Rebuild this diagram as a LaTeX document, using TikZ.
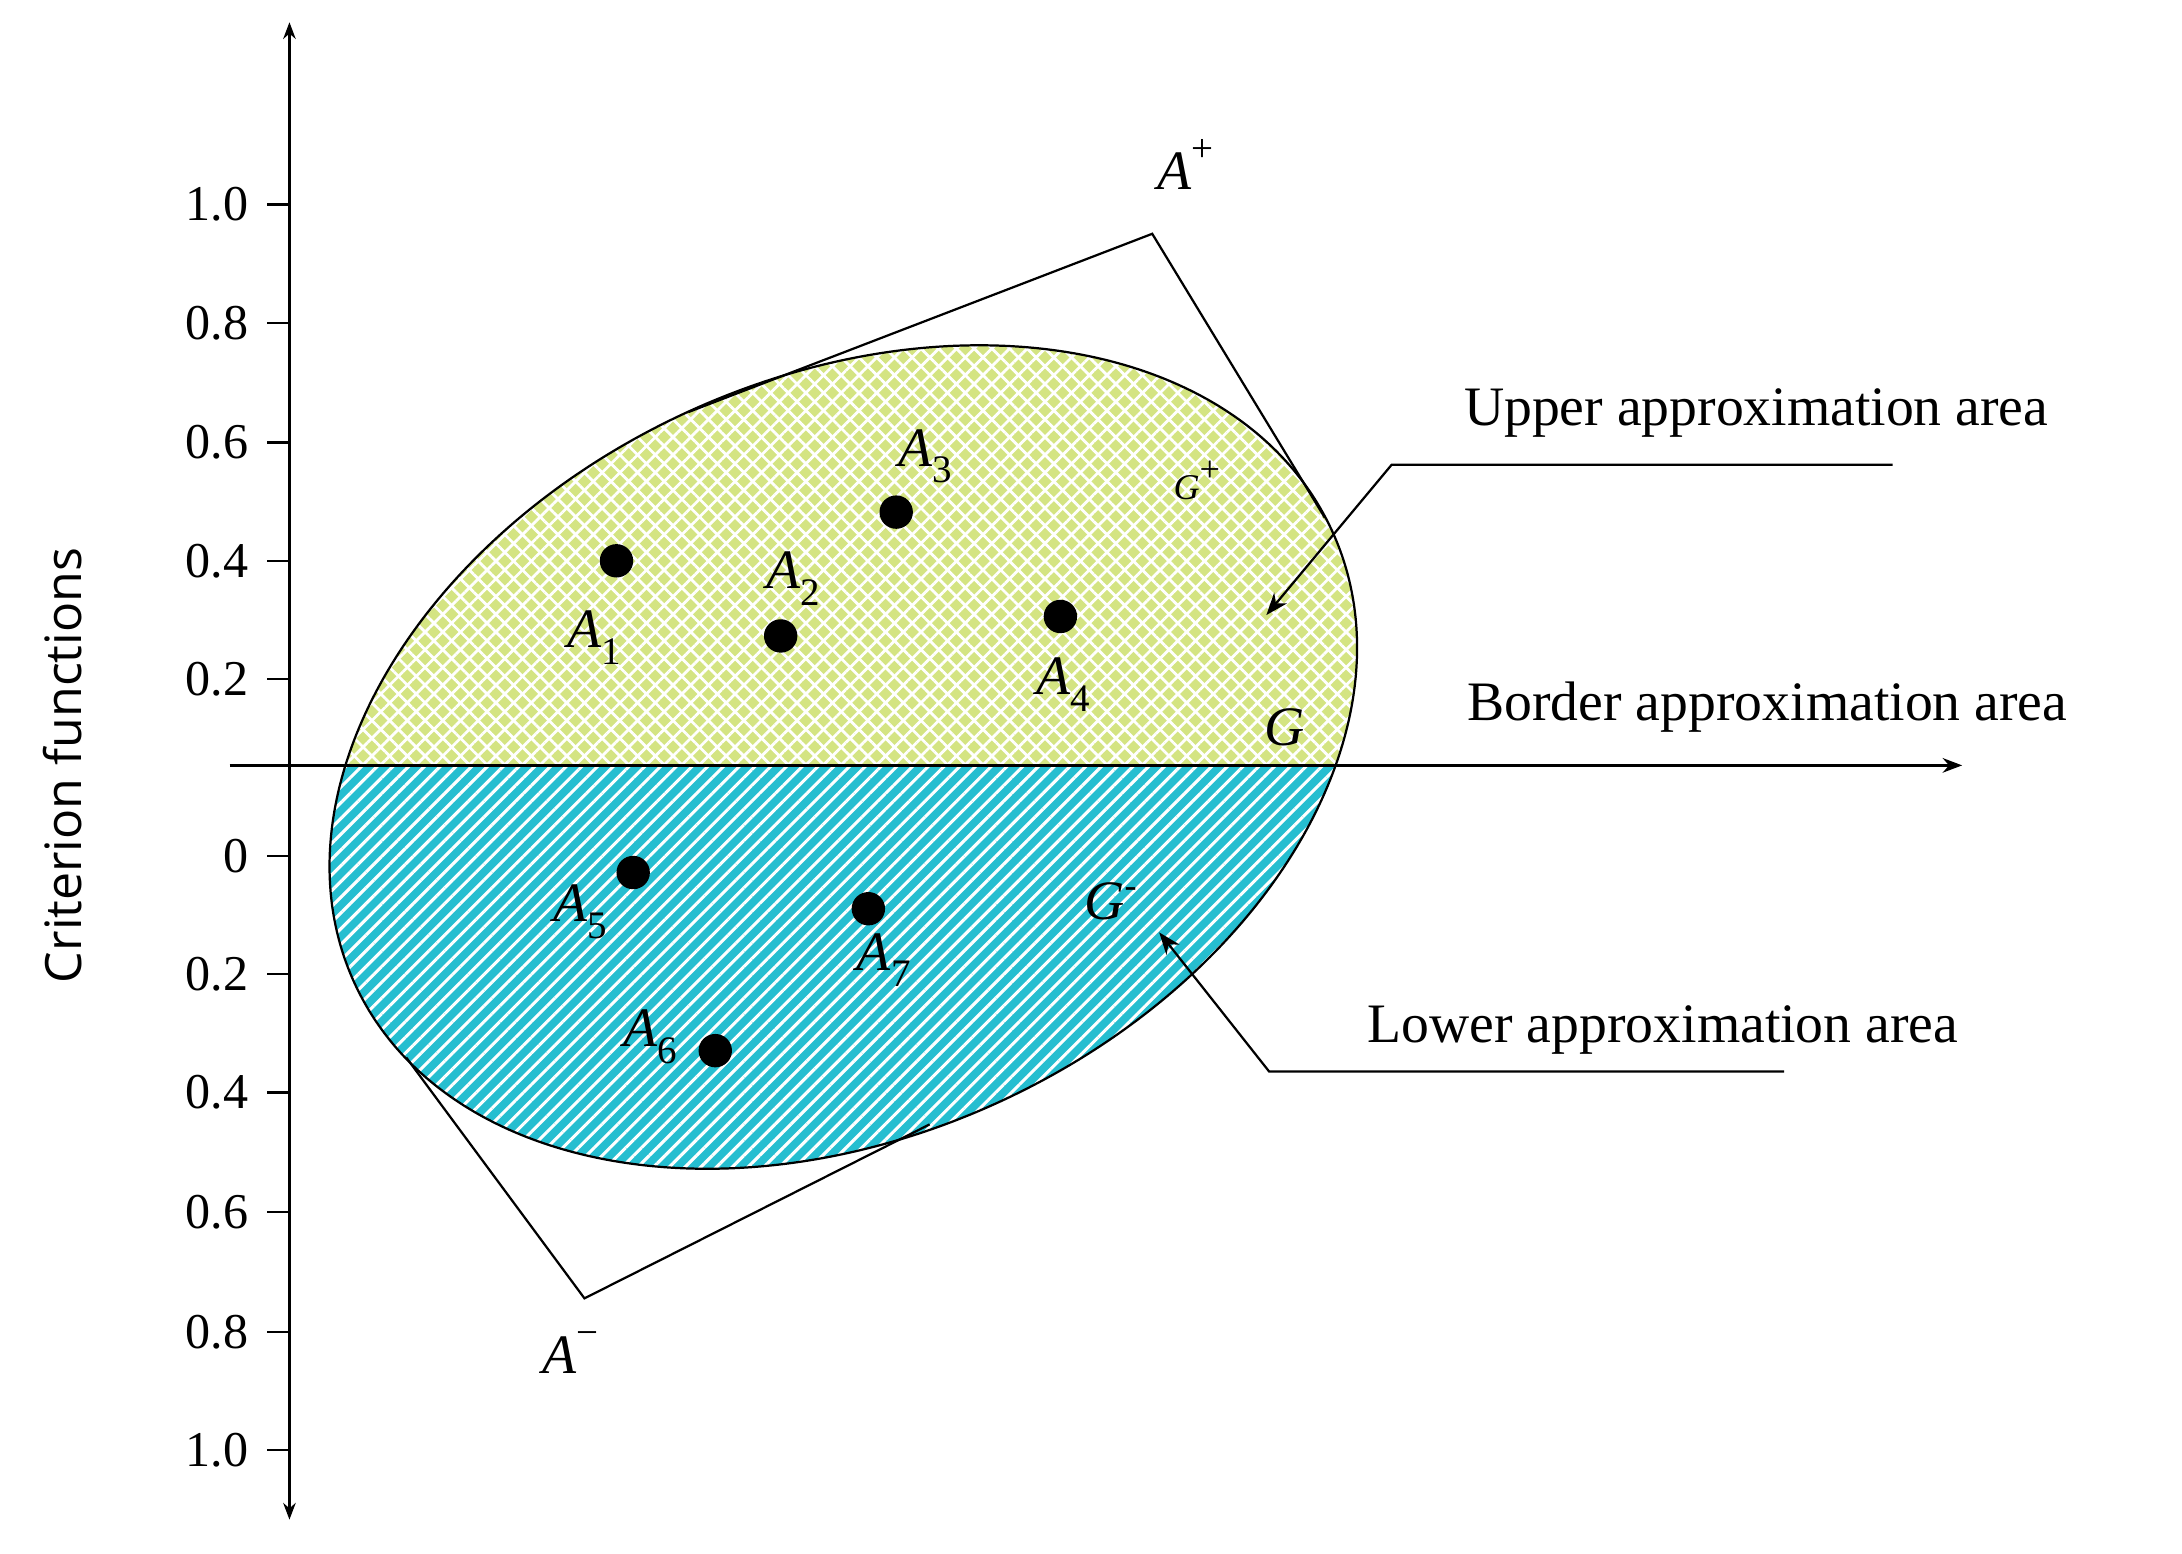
\documentclass[tikz,border=0pt]{standalone}
\usepackage{fontspec}
\setmainfont{Liberation Serif}
\newfontfamily\sansf{Open Sans}
\usetikzlibrary{patterns.meta,arrows.meta}
\newcommand{\Asub}[1]{\textit{A}\raisebox{-0.3em}{\fontsize{28}{30}\selectfont #1}}
\newcommand{\Asup}[1]{\textit{A}\raisebox{0.5em}{\fontsize{28}{30}\selectfont #1}}
\begin{document}
\begin{tikzpicture}[x=1pt,y=1pt,
  lab/.style={font=\fontsize{40}{44}\selectfont},
  tick/.style={font=\fontsize{36}{40}\selectfont,anchor=east},
  pt/.style={circle,fill=black,inner sep=0pt,minimum size=24pt},
  ax/.style={line width=1.8pt},
  ln/.style={line width=1.6pt}]
\useasboundingbox (0,0) rectangle (1568,-1116);
\def\ell{(606,-544) ellipse [x radius=387, y radius=272]}
\begin{scope}
  \clip[rotate around={25:(606,-544)}] \ell;
  \fill[fill={rgb,255:red,212;green,228;blue,130}] (0,-550) rectangle (1200,0);
  \fill[pattern={Lines[angle=45,distance=9pt,line width=2pt]},pattern color=white] (0,-550) rectangle (1200,0);
  \fill[pattern={Lines[angle=-45,distance=9pt,line width=2pt]},pattern color=white] (0,-550) rectangle (1200,0);
  \fill[fill={rgb,255:red,38;green,190;blue,208}] (0,-550) rectangle (1200,-1100);
  \fill[pattern={Lines[angle=45,distance=8pt,line width=2.2pt]},pattern color=white] (0,-550) rectangle (1200,-1100);
\end{scope}
\draw[ln,rotate around={25:(606,-544)}] \ell;
% rectangle parts
\coordinate (Ap) at (828,-168);
\coordinate (Am) at (420,-933);
\draw[ln] (495,-296) -- (Ap) -- (952,-372);
\draw[ln] (292,-760) -- (Am) -- (668,-808);
% axes
\draw[ax,{Stealth[length=12pt]}-{Stealth[length=12pt]}] (208,-1092) -- (208,-16);
\draw[ax,-{Stealth[length=14pt]}] (165,-550) -- (1410,-550);
% ticks
\foreach \y/\t in {147/1.0,232/0.8,318/0.6,403/0.4,488/0.2,615/0,700/0.2,785/0.4,871/0.6,957/0.8,1042/1.0}{
  \node[tick] at (182,-\y) {\t};
  \draw[line width=1.6pt] (192,-\y) -- (208,-\y);
}
\node[rotate=90,font=\sansf\fontsize{36}{40}\selectfont] (cf) at (45,-550) {Criterion functions};
% points
\node[pt] (p1) at (443,-403) {};
\node[pt] (p2) at (561,-457) {};
\node[pt] (p3) at (644,-368) {};
\node[pt] (p4) at (762,-443) {};
\node[pt] (p5) at (455,-627) {};
\node[pt] (p6) at (514,-755) {};
\node[pt] (p7) at (624,-653) {};
\node[lab] at (427,-458) {\Asub{1}};
\node[lab] at (570,-416) {\Asub{2}};
\node[lab] at (665,-328) {\Asub{3}};
\node[lab] at (764,-492) {\Asub{4}};
\node[lab] at (417,-655) {\Asub{5}};
\node[lab] at (467,-745) {\Asub{6}};
\node[lab] at (635,-690) {\Asub{7}};
\node[font=\fontsize{26}{30}\selectfont] at (860,-345) {\textit{G}\raisebox{0.5em}{+}};
\node[lab] at (923,-523) {\textit{G}};
\node[lab] at (798,-648) {\textit{G}\raisebox{0.4em}{\fontsize{26}{28}\selectfont -}};
\node[lab] at (852,-118) {\Asup{+}};
\node[lab] at (410,-972) {\Asup{−}};
% labels
\node[lab] (up) at (1262,-297) {Upper approximation area};
\node[lab] (bd) at (1270,-508) {Border approximation area};
\node[lab] (lo) at (1195,-740) {Lower approximation area};
\coordinate (u1) at (1360,-334);
\coordinate (u2) at (1000,-334);
\coordinate (u3) at (910,-442);
\draw[ln,-{Stealth[length=16pt]}] (u1) -- (u2) -- (u3);
\coordinate (l1) at (1282,-770);
\coordinate (l2) at (912,-770);
\coordinate (l3) at (833,-670);
\draw[ln,-{Stealth[length=16pt]}] (l1) -- (l2) -- (l3);
\end{tikzpicture}
\end{document}
